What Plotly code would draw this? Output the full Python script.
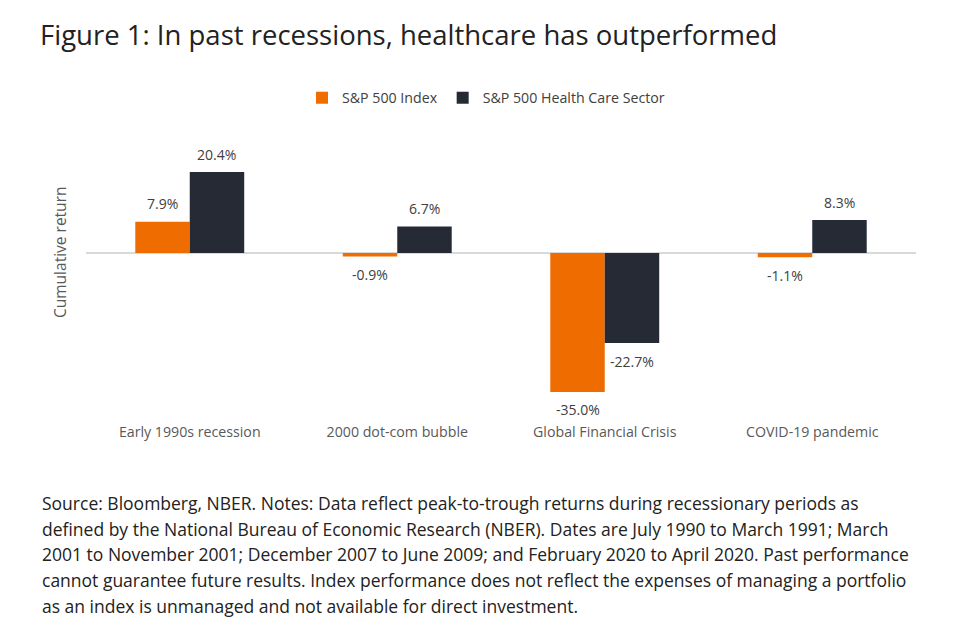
import plotly.graph_objects as go

categories = ["Early 1990s recession", "2000 dot-com bubble", "Global Financial Crisis", "COVID-19 pandemic"]
sp500 = [7.9, -0.9, -35.0, -1.1]
healthcare = [20.4, 6.7, -22.7, 8.3]
series_names = ["S&P 500 Index", "S&P 500 Health Care Sector"]
colors = ["#EF6C00", "#252A35"]
title_text = "Figure 1: In past recessions, healthcare has outperformed"
y_title = "Cumulative return"
footnote_lines = [
    "Source: Bloomberg, NBER. Notes: Data reflect peak-to-trough returns during recessionary periods as",
    "defined by the National Bureau of Economic Research (NBER). Dates are July 1990 to March 1991; March",
    "2001 to November 2001; December 2007 to June 2009; and February 2020 to April 2020. Past performance",
    "cannot guarantee future results. Index performance does not reflect the expenses of managing a portfolio",
    "as an index is unmanaged and not available for direct investment.",
]

OFF = 8  # page body margin
W, H = 964, 628
L, R, T, B = 86 - OFF, W - (916 - OFF), 140 - OFF, H - (420 - OFF)
pw, ph = W - L - R, H - T - B

def px_x(x):
    return (x - OFF - L) / pw

def px_y(y):
    return (H - B - (y - OFF)) / ph

fig = go.Figure()
for name, vals, col in zip(series_names, [sp500, healthcare], colors):
    fig.add_trace(go.Bar(x=categories, y=vals, name=name, marker=dict(color=col, line=dict(width=0))))

annotations = []
for vals, xs in zip([sp500, healthcare], [-27, 27]):
    for c, v in zip(categories, vals):
        annotations.append(dict(
            x=c, y=v, xref="x", yref="y", text=f"{v:.1f}%", showarrow=False,
            xshift=xs, yshift=18 if v >= 0 else -18,
            font=dict(family="Open Sans", size=14, color="#404040"),
        ))

annotations.append(dict(
    x=px_x(60), y=px_y(253), xref="paper", yref="paper", text=y_title, textangle=-90,
    xanchor="center", yanchor="middle",
    showarrow=False, font=dict(family="Open Sans", size=15.5, color="#595959"),
))

for i, line in enumerate(footnote_lines):
    annotations.append(dict(
        x=px_x(40), y=px_y(503 + i * 25.7), xref="paper", yref="paper", text=line,
        showarrow=False, xanchor="left", yanchor="middle",
        font=dict(family="Open Sans", size=17.5, color="#222222"),
    ))

fig.update_layout(
    width=W, height=H,
    margin=dict(l=L, r=R, t=T, b=B, autoexpand=False),
    paper_bgcolor="white", plot_bgcolor="white",
    barmode="group", bargap=0.475, bargroupgap=0,
    title=dict(text=title_text, x=(40 - OFF) / W, xanchor="left", y=1 - (35 - OFF) / H, yanchor="middle",
               font=dict(family="Open Sans", size=27.5, color="#222222")),
    legend=dict(orientation="h", x=px_x(486), xanchor="center", y=px_y(98), yanchor="middle",
                font=dict(family="Open Sans", size=14.2, color="#404040"), itemwidth=30,
                traceorder="normal"),
    xaxis=dict(showgrid=False, showline=False, ticks="", ticklabelstandoff=2,
               tickfont=dict(family="Open Sans", size=14.2, color="#595959")),
    yaxis=dict(range=[-(420 - 253) / 3.97, (253 - 140) / 3.97], showgrid=False, showticklabels=False,
               zeroline=True, zerolinecolor="#D9D9D9", zerolinewidth=2, showline=False, ticks=""),
    annotations=annotations,
    showlegend=True,
)

fig.write_html("out.html")
